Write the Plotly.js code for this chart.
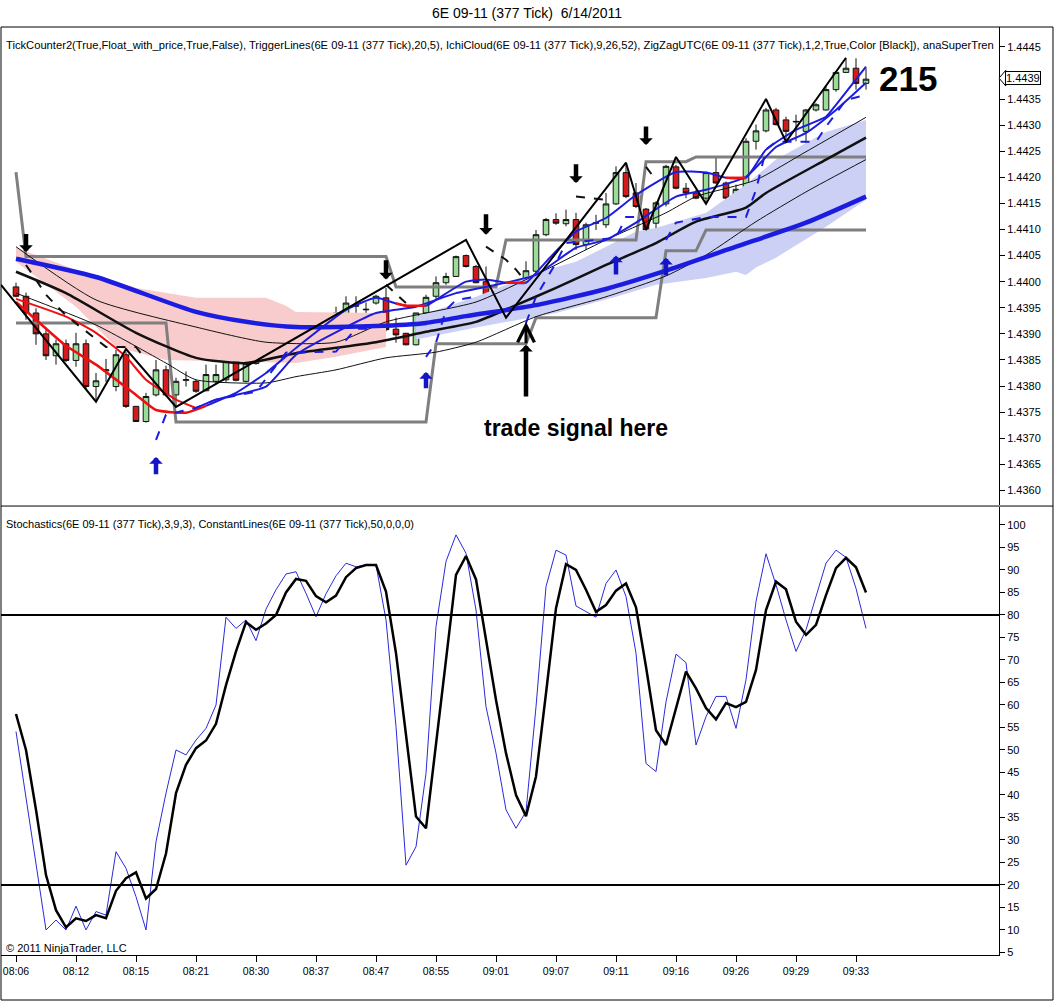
<!DOCTYPE html>
<html><head><meta charset="utf-8">
<script src="https://cdn.plot.ly/plotly-3.0.1.min.js"></script>
<style>html,body{margin:0;padding:0;background:#fff}#chart{width:1055px;height:1001px}</style>
</head><body><div id="chart"></div>
<script>
// ---------- price bars ----------
const open  = [1.43990,1.43972,1.43940,1.43900,1.43858,1.43881,1.43849,1.43881,1.43799,1.43829,1.43799,1.43860,1.43761,1.43732,1.43783,1.43831,1.43783,1.43811,1.43809,1.43791,1.43809,1.43812,1.43858,1.43809,1.43843,1.43850,1.43860,1.43900,1.43921,1.43902,1.43889,1.43916,1.43915,1.43930,1.43953,1.43946,1.43959,1.43969,1.43909,1.43901,1.43879,1.43940,1.43972,1.43998,1.44010,1.44050,1.44029,1.44000,1.43969,1.43970,1.43937,1.43979,1.44020,1.44090,1.44119,1.44111,1.44119,1.44071,1.44112,1.44109,1.44149,1.44209,1.44170,1.44139,1.44112,1.44149,1.44220,1.44179,1.44170,1.44160,1.44209,1.44189,1.44160,1.44179,1.44269,1.44289,1.44329,1.44310,1.44306,1.44288,1.44329,1.44329,1.44368,1.44401,1.44409,1.44380];
const high  = [1.43998,1.43979,1.43949,1.43912,1.43889,1.43889,1.43902,1.43889,1.43825,1.43852,1.43869,1.43866,1.43762,1.43787,1.43850,1.43839,1.43816,1.43828,1.43812,1.43841,1.43841,1.43860,1.43860,1.43847,1.43871,1.43889,1.43908,1.43927,1.43931,1.43923,1.43921,1.43931,1.43952,1.43972,1.43972,1.43960,1.43975,1.43988,1.43931,1.43902,1.43940,1.43975,1.44010,1.44017,1.44050,1.44052,1.44032,1.44029,1.43975,1.43972,1.43981,1.44039,1.44099,1.44122,1.44131,1.44138,1.44132,1.44113,1.44128,1.44170,1.44221,1.44227,1.44189,1.44141,1.44154,1.44224,1.44224,1.44189,1.44176,1.44211,1.44237,1.44192,1.44186,1.44275,1.44301,1.44333,1.44333,1.44316,1.44320,1.44331,1.44342,1.44374,1.44403,1.44428,1.44428,1.44409];
const low   = [1.43970,1.43927,1.43879,1.43850,1.43841,1.43846,1.43837,1.43793,1.43770,1.43808,1.43790,1.43758,1.43731,1.43730,1.43780,1.43780,1.43761,1.43799,1.43787,1.43790,1.43804,1.43806,1.43809,1.43807,1.43841,1.43847,1.43857,1.43898,1.43895,1.43880,1.43860,1.43883,1.43902,1.43927,1.43927,1.43927,1.43956,1.43905,1.43883,1.43878,1.43878,1.43937,1.43965,1.43994,1.44009,1.44027,1.43997,1.43965,1.43959,1.43930,1.43933,1.43978,1.44016,1.44087,1.44109,1.44106,1.44061,1.44061,1.44099,1.44103,1.44147,1.44160,1.44141,1.44099,1.44099,1.44144,1.44177,1.44160,1.44158,1.44151,1.44188,1.44151,1.44159,1.44176,1.44253,1.44286,1.44299,1.44269,1.44269,1.44265,1.44326,1.44328,1.44364,1.44400,1.44368,1.44368];
const close = [1.43972,1.43940,1.43900,1.43858,1.43881,1.43849,1.43881,1.43799,1.43810,1.43831,1.43860,1.43761,1.43732,1.43780,1.43831,1.43783,1.43809,1.43812,1.43790,1.43822,1.43822,1.43858,1.43811,1.43843,1.43860,1.43862,1.43900,1.43921,1.43900,1.43915,1.43911,1.43917,1.43940,1.43959,1.43954,1.43947,1.43972,1.43908,1.43898,1.43879,1.43940,1.43970,1.43998,1.44010,1.44048,1.44029,1.43998,1.43969,1.43970,1.43940,1.43979,1.44021,1.44090,1.44119,1.44112,1.44119,1.44071,1.44109,1.44113,1.44149,1.44209,1.44163,1.44144,1.44099,1.44151,1.44221,1.44179,1.44170,1.44160,1.44209,1.44189,1.44160,1.44177,1.44269,1.44289,1.44329,1.44301,1.44288,1.44307,1.44329,1.44339,1.44368,1.44401,1.44409,1.44380,1.44388];

// ---------- time axis ----------
const tickBars   = [0,6,12,18,24,30,36,42,48,54,60,66,72,78,84];
const tickLabels = ['08:06','08:12','08:15','08:21','08:30','08:37','08:47','08:55','09:01','09:07','09:11','09:16','09:26','09:29','09:33'];

// ---------- moving-average style lines (bar index, price) ----------
const thickBlueX = [0,8,18,23,28,36,41,45,52,59,65,72,79,85];
const thickBlueY = [1.44044,1.44009,1.43942,1.43923,1.43913,1.43915,1.43921,1.43934,1.43955,1.43986,1.44021,1.44067,1.44113,1.44163];
const midBlackX = [0,5,12,18,23,28,36,41,46,50,54,59,64,68,73,75,81,85];
const midBlackY = [1.44019,1.43978,1.43902,1.43854,1.43844,1.43863,1.43884,1.43904,1.43923,1.43955,1.43988,1.44032,1.44074,1.44115,1.44142,1.44170,1.44234,1.44276];
const upperThinX = [0,8,18,25,32,37,46,51,59,65,68,74,79,85];
const upperThinY = [1.44067,1.43965,1.43913,1.43884,1.43884,1.43923,1.43961,1.44004,1.44080,1.44132,1.44163,1.44195,1.44249,1.44315];
const lowerThinX = [0,8,15,18,25,28,32,37,42,46,52,59,65,69,74,79,85];
const lowerThinY = [1.43978,1.43917,1.43844,1.43812,1.43806,1.43818,1.43831,1.43854,1.43865,1.43884,1.43933,1.43971,1.44011,1.44051,1.44115,1.44172,1.44234];

// ---------- trigger lines ----------
const fastX = [0,2,5,8,12,14,17,19,22,25,28,33,36,38,39,41,42,45,47,49,51,53,56,59,62,66,69,71,73,75,78,81,82,85];
const fastY = [1.43961,1.43927,1.43877,1.43841,1.43783,1.43754,1.43749,1.43762,1.43787,1.43825,1.43873,1.43946,1.43969,1.43958,1.43954,1.43954,1.43965,1.44000,1.44004,1.43998,1.43998,1.44038,1.44096,1.44122,1.44166,1.44210,1.44209,1.44199,1.44199,1.44253,1.44291,1.44316,1.44339,1.44412];
const slowX = [0,5,8,11,13,16,18,20,25,28,33,36,40,44,48,52,56,59,62,66,69,73,76,79,82,85];
const slowY = [1.43967,1.43933,1.43902,1.43856,1.43812,1.43774,1.43758,1.43774,1.43799,1.43860,1.43913,1.43940,1.43952,1.43978,1.43994,1.44013,1.44065,1.44080,1.44113,1.44163,1.44176,1.44201,1.44258,1.44285,1.44329,1.44381];
const fastRedRanges = [[0,19],[38,41],[49,51],[71,73]];
const slowRedEnd = 18;

// ---------- super trend (dashed) ----------
const stDown = [
  {x:[1,3,5,8,9,12,13], y:[1.44032,1.43975,1.43935,1.43889,1.43875,1.43875,1.43850]},
  {x:[37,39], y:[1.43994,1.43959]},
  {x:[47,49,50,51], y:[1.44067,1.44042,1.44023,1.44000]},
  {x:[56,59], y:[1.44163,1.44157]},
  {x:[63,64], y:[1.44220,1.44195]}
];
const stUp = [
  {x:[14,15,18,20,24,27,32,34,36], y:[1.43697,1.43745,1.43758,1.43774,1.43789,1.43864,1.43866,1.43910,1.43910]},
  {x:[41,42,43,44,46], y:[1.43856,1.43883,1.43946,1.43965,1.43971]},
  {x:[51,52,54,55,60,61,62], y:[1.43921,1.43971,1.44036,1.44074,1.44084,1.44124,1.44124]},
  {x:[65,66,69,73,74,75,76,80,81,83,85], y:[1.44080,1.44113,1.44124,1.44124,1.44176,1.44253,1.44268,1.44268,1.44297,1.44348,1.44358]}
];

// ---------- grey channel steps ----------
const greyUpX = [0,1,37,38,48,49,62,63,67,68,85];
const greyUpY = [1.44210,1.44048,1.44048,1.43990,1.43990,1.44080,1.44080,1.44230,1.44230,1.44239,1.44239];
const greyLoX = [0,15,16,41,42,51,52,64,65,68,69,85];
const greyLoY = [1.43921,1.43921,1.43731,1.43731,1.43881,1.43881,1.43931,1.43931,1.44059,1.44059,1.44099,1.44099];

// ---------- zigzag ----------
const zzX = [-1.5,8,11,16,45,49,61,63,66,69,75,77,83];
const zzY = [1.43994,1.43770,1.43871,1.43760,1.44080,1.43931,1.44228,1.44099,1.44239,1.44149,1.44350,1.44268,1.44429];

// ---------- ichimoku cloud ----------
const pinkTopX = [0,6,12,18,25,27,28,37];
const pinkTopY = [1.44065,1.44023,1.43988,1.43969,1.43969,1.43954,1.43942,1.43940];
const pinkBotX = [0,6,10,15,28,32,37];
const pinkBotY = [1.44038,1.43952,1.43875,1.43850,1.43844,1.43856,1.43875];
const blueTopX = [40,46,52,56,59,62,64,69,73,76,81,85];
const blueTopY = [1.43933,1.43971,1.44017,1.44038,1.44067,1.44096,1.44103,1.44132,1.44186,1.44234,1.44287,1.44310];
const blueBotX = [40,46,54,60,64,69,72,73,74,76,81,85];
const blueBotY = [1.43889,1.43912,1.43940,1.43971,1.43994,1.44007,1.44019,1.44013,1.44027,1.44046,1.44105,1.44157];

// ---------- signal arrows ----------
const downX = [1,37,47,56,63];
const downTail = [1.44094,1.44044,1.44132,1.44228,1.44300];
const downTip  = [1.44057,1.44004,1.44090,1.44189,1.44262];
const upX = [14,41,60,65];
const upTail = [1.43628,1.43793,1.44011,1.44009];
const upTip  = [1.43664,1.43827,1.44050,1.44046];
const tradeBar = 51, tradeTail = 1.43777, tradeMid = 1.43879, tradeTip = 1.43923;

// ---------- stochastics ----------
const stochD = [58.0,50.0,36.7,22.2,14.4,10.6,12.6,12.0,13.3,12.6,18.7,21.5,22.8,17.0,19.1,27.0,40.4,46.7,50.4,52.1,55.8,64.4,71.9,78.4,76.7,78.1,80.0,85.0,88.0,87.6,84.2,82.8,84.3,88.4,90.4,91.1,91.1,85.2,71.5,53.0,35.2,32.6,52,70,88.9,93.1,87.9,74.4,61.1,49.3,40.0,35.3,44.1,62.6,81.5,91.3,90.0,85.6,80.7,82.2,85.4,87.0,81.7,68.5,54.4,51.1,59.3,67.4,63.7,59.3,56.8,60.4,59.5,60.7,67.8,81.1,87.4,85.7,78.5,75.6,77.8,84.4,90.4,92.7,90.6,85.0];
const stochK = [54.1,39.3,24.8,10.0,12.2,10.0,15.3,10.0,14.1,13.3,27.4,23.7,17.4,10.0,29.6,40.4,50.0,48.9,52.2,54.8,60.0,79.5,77.0,78.9,74.3,81.3,85.6,89.1,89.6,84.8,79.6,84.7,88.7,91.5,90.7,91.1,91.1,78.9,55.2,24.4,28.5,44.8,77.4,91.9,97.8,93.7,81.1,59.6,49.3,36.7,32.6,36.3,59.6,86.3,94.4,93.3,82.0,80.7,79.5,87.0,90.0,84.1,71.5,47.0,45.2,60.7,71.3,69.4,51.1,57.4,61.9,61.9,54.8,65.6,83.0,93.6,86.7,78.9,71.9,76.7,84.1,91.5,94.4,92.8,85.9,77.0];
const stochLevels = [80, 20];
const lastPrice = 1.4439;
const counterText = '215';

// ================= build =================
const bars = open.map((_, i) => i);
const BLUE = '#1c1ce0', RED = '#ee1010', FONT = 'Arial, "Liberation Sans", sans-serif';
const traces = [];
function line(x, y, color, width, extra) {
  return Object.assign({type:'scatter', mode:'lines', x, y, xaxis:'x', yaxis:'y', hoverinfo:'skip',
    line:{color, width}}, extra || {});
}
function cloud(tx, ty, bx, by, color) {
  return {type:'scatter', mode:'lines', x: tx.concat(bx.slice().reverse()), y: ty.concat(by.slice().reverse()),
    fill:'toself', fillcolor:color, line:{width:0, color:color}, hoverinfo:'skip', xaxis:'x', yaxis:'y'};
}
function slice(xs, ys, a, b) {
  const X = [], Y = [];
  xs.forEach((v, i) => { if (v >= a && v <= b) { X.push(v); Y.push(ys[i]); } });
  return [X, Y];
}
const sp = (c, w, sm) => ({line:{color:c, width:w, shape:'spline', smoothing:sm}});
traces.push(cloud(pinkTopX, pinkTopY, pinkBotX, pinkBotY, 'rgb(248,204,204)'));
traces.push(cloud(blueTopX, blueTopY, blueBotX, blueBotY, 'rgb(204,208,245)'));
traces.push(line(greyUpX, greyUpY, '#7f7f7f', 3));
traces.push(line(greyLoX, greyLoY, '#7f7f7f', 3));
traces.push({type:'candlestick', x:bars, open, high, low, close, xaxis:'x', yaxis:'y', hoverinfo:'skip',
  whiskerwidth:0,
  increasing:{fillcolor:'#99dd99', line:{color:'#111', width:1}},
  decreasing:{fillcolor:'#d41a1a', line:{color:'#111', width:1}}});
traces.push(line(upperThinX, upperThinY, '#111', 1, sp('#111', 1, 0.6)));
traces.push(line(lowerThinX, lowerThinY, '#111', 1, sp('#111', 1, 0.6)));
traces.push(line(midBlackX, midBlackY, '#111', 2.5, sp('#111', 2.5, 0.6)));
traces.push(line(thickBlueX, thickBlueY, BLUE, 4.5, sp(BLUE, 4.5, 0.6)));
let s;
s = slice(slowX, slowY, slowRedEnd, 999); traces.push(line(s[0], s[1], BLUE, 2, sp(BLUE, 2, 0.5)));
s = slice(slowX, slowY, -1, slowRedEnd); traces.push(line(s[0], s[1], RED, 2, sp(RED, 2, 0.5)));
s = slice(fastX, fastY, fastRedRanges[0][1], 999); traces.push(line(s[0], s[1], BLUE, 2, sp(BLUE, 2, 0.5)));
fastRedRanges.forEach(r => { const q = slice(fastX, fastY, r[0], r[1]);
  traces.push(line(q[0], q[1], RED, 2.5, sp(RED, 2.5, 0.5))); });
stDown.forEach(seg => traces.push(line(seg.x, seg.y, '#111', 2, {line:{color:'#111', width:2, dash:'dash'}})));
stUp.forEach(seg => traces.push(line(seg.x, seg.y, BLUE, 2, {line:{color:BLUE, width:2, dash:'dash'}})));
traces.push(line(zzX, zzY, '#000', 2));
traces.push({type:'scatter', mode:'lines', x:bars, y:stochK, xaxis:'x', yaxis:'y2', hoverinfo:'skip', line:{color:'#2a2ad8', width:1}});
traces.push({type:'scatter', mode:'lines', x:bars, y:stochD, xaxis:'x', yaxis:'y2', hoverinfo:'skip', line:{color:'#000', width:2.5}});

const ann = [];
const arrow = (b, tip, tail, color, head, size, width) => ({x:b, y:tip, ax:b, ay:tail, xref:'x', yref:'y', axref:'x', ayref:'y',
  text:'', showarrow:true, arrowhead:head, arrowsize:size, arrowwidth:width, arrowcolor:color, standoff:0});
downX.forEach((b, i) => ann.push(arrow(b, downTip[i], downTail[i], '#000', 1, 0.5, 4.5)));
upX.forEach((b, i) => ann.push(arrow(b, upTip[i], upTail[i], '#1515c8', 1, 0.5, 4.5)));
ann.push(arrow(tradeBar, tradeMid, tradeTail, '#000', 1, 0.5, 4.5));
ann.push(arrow(tradeBar, tradeTip, tradeMid, '#000', 5, 1.1, 3));
ann.push({x:56, y:1.43720, xref:'x', yref:'y', text:'<b>trade signal here</b>', showarrow:false,
  font:{family:FONT, size:23, color:'#000'}});
ann.push({x:89.2, y:1.44389, xref:'x', yref:'y', text:'<b>' + counterText + '</b>', showarrow:false,
  font:{family:FONT, size:35, color:'#000'}});
ann.push({x:1.0065, y:lastPrice, xref:'paper', yref:'y', xanchor:'left', text:lastPrice.toFixed(4), showarrow:false,
  bgcolor:'#fff', bordercolor:'#000', borderwidth:1, borderpad:0, font:{family:FONT, size:11, color:'#000'}});
ann.push({x:0.003, y:0.9806, xref:'paper', yref:'paper', xanchor:'left', yanchor:'middle', showarrow:false,
  text:'TickCounter2(True,Float_with_price,True,False), TriggerLines(6E 09-11 (377 Tick),20,5), IchiCloud(6E 09-11 (377 Tick),9,26,52), ZigZagUTC(6E 09-11 (377 Tick),1,2,True,Color [Black]), anaSuperTren',
  font:{family:FONT, size:11.2, color:'#000'}});
ann.push({x:0.003, y:0.4644, xref:'paper', yref:'paper', xanchor:'left', yanchor:'middle', showarrow:false,
  text:'Stochastics(6E 09-11 (377 Tick),3,9,3), ConstantLines(6E 09-11 (377 Tick),50,0,0,0)',
  font:{family:FONT, size:11, color:'#000'}});
ann.push({x:0.003, y:0.0075, xref:'paper', yref:'paper', xanchor:'left', yanchor:'middle', showarrow:false,
  text:'\u00a9 2011 NinjaTrader, LLC', font:{family:FONT, size:11, color:'#000'}});

const shapes = [];
stochLevels.forEach(v => shapes.push({type:'line', xref:'paper', yref:'y2', x0:0, x1:1, y0:v, y1:v, line:{color:'#000', width:2}}));
const R = 1.0541, B = -0.0485;
[[0,1,R,1],[0,0.4838,R,0.4838],[0,B,R,B],[0,B,0,1],[R,B,R,1]].forEach(c =>
  shapes.push({type:'line', xref:'paper', yref:'paper', x0:c[0], y0:c[1], x1:c[2], y1:c[3], line:{color:'#000', width:1}}));
shapes.push({type:'path', xref:'paper', yref:'y', path:'M 1.0 ' + lastPrice + ' L 1.0068 ' + (lastPrice + 0.00015) + ' L 1.0068 ' + (lastPrice - 0.00015) + ' Z',
  fillcolor:'#fff', line:{color:'#000', width:1}});

// price ticks every 0.0005; the one hidden under the last-price box is left out
const priceTicks = [];
for (let k = 0; k <= 17; k++) priceTicks.push(+(1.4360 + k * 0.0005).toFixed(4));
const shownPriceTicks = priceTicks.filter(v => Math.abs(v - lastPrice) > 0.0002);

const axisFont = {family:FONT, size:11, color:'#000'};
const layout = {
  width:1055, height:1001, margin:{l:1, r:56, t:27, b:46}, paper_bgcolor:'#fff', plot_bgcolor:'#fff',
  showlegend:false, boxgap:0.2, boxgroupgap:0.3,
  title:{text:'6E 09-11 (377 Tick)\u00a0 6/14/2011', x:0.4995, xref:'container', y:0.987, yref:'container', yanchor:'middle',
    font:{family:FONT, size:14, color:'#000'}},
  xaxis:{domain:[0,1], range:[-1.5, 98.3], anchor:'y2', tickvals:tickBars, ticktext:tickLabels, ticks:'outside', ticklen:6,
    tickcolor:'#000', showline:true, linecolor:'#000', linewidth:1, showgrid:false, zeroline:false,
    rangeslider:{visible:false}, tickfont:{family:FONT, size:10.5, color:'#000'}, fixedrange:true},
  yaxis:{domain:[0.4849,1], range:[1.43572,1.44488], anchor:'x', side:'right', tickvals:shownPriceTicks, tickformat:'.4f',
    ticks:'outside', ticklen:5, tickcolor:'#000', showline:true, linecolor:'#000', showgrid:false, zeroline:false, tickfont:axisFont},
  yaxis2:{domain:[0,0.4828], range:[4.44,104], anchor:'x', side:'right', dtick:5, tick0:0,
    ticks:'outside', ticklen:5, tickcolor:'#000', showline:true, linecolor:'#000', showgrid:false, zeroline:false, tickfont:axisFont},
  annotations:ann, shapes:shapes
};
Plotly.newPlot('chart', traces, layout, {staticPlot:true, displayModeBar:false});
</script></body></html>
